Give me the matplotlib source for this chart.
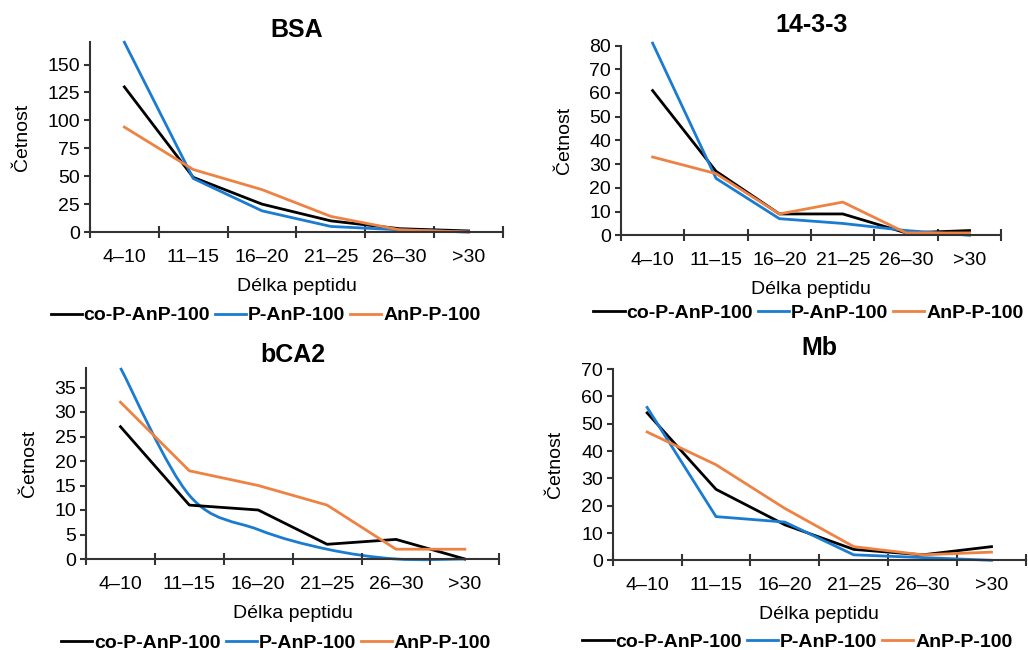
import matplotlib
matplotlib.use("Agg")
import matplotlib.pyplot as plt
from matplotlib.path import Path
from matplotlib.patches import PathPatch
import numpy as np

plt.rcParams['font.family'] = ['Liberation Sans', 'DejaVu Sans']

categories = ["4–10", "11–15", "16–20", "21–25", "26–30", ">30"]
series_names = ["co-P-AnP-100", "P-AnP-100", "AnP-P-100"]
colors = ["#000000", "#1A7CD0", "#EE8243"]

bsa_co = [130, 49, 25, 10, 3, 1]
bsa_p = [170, 48, 19, 5, 2, 0]
bsa_anp = [94, 56, 38, 14, 2, 0]

p1433_co = [61, 27, 9, 9, 1, 2]
p1433_p = [81, 24, 7, 5, 2, 0]
p1433_anp = [33, 26, 9, 14, 1, 1]

bca2_co = [27, 11, 10, 3, 4, 0]
bca2_p = [39, 13, 6, 2, 0, 0]
bca2_anp = [32, 18, 15, 11, 2, 2]

mb_co = [54, 26, 13, 4, 2, 5]
mb_p = [56, 16, 14, 2, 1, 0]
mb_anp = [47, 35, 19, 5, 2, 3]

panels = [
    ("BSA", [bsa_co, bsa_p, bsa_anp], 170, [0, 25, 50, 75, 100, 125, 150], [False, False, False],
     [0.0875, 0.643, 0.4018, 0.292]),
    ("14-3-3", [p1433_co, p1433_p, p1433_anp], 80, list(range(0, 81, 10)), [False, False, False],
     [0.604, 0.638, 0.370, 0.292]),
    ("bCA2", [bca2_co, bca2_p, bca2_anp], 39, list(range(0, 36, 5)), [False, True, False],
     [0.0837, 0.140, 0.402, 0.294]),
    ("Mb", [mb_co, mb_p, mb_anp], 70, list(range(0, 71, 10)), [False, False, False],
     [0.596, 0.138, 0.402, 0.294]),
]

legend_anchor_x = [0.425, 0.493, 0.46, 0.447]
legend_anchor_y = [-0.44, -0.41, -0.44, -0.43]
title_pads = [4, 10, 4, 10]

fig = plt.figure(figsize=(10.28, 6.5), dpi=100)
x = np.arange(len(categories))
spine_col = "#333333"

def smooth_path(xs, ys):
    # Catmull-Rom style bezier (Excel-like smoothed line)
    pts = np.column_stack([xs, ys]).astype(float)
    verts = [tuple(pts[0])]
    codes = [Path.MOVETO]
    n = len(pts)
    for i in range(n - 1):
        p0 = pts[i - 1] if i > 0 else pts[i]
        p1 = pts[i]
        p2 = pts[i + 1]
        p3 = pts[i + 2] if i + 2 < n else pts[i + 1]
        c1 = p1 + (p2 - p0) / 6.0
        c2 = p2 - (p3 - p1) / 6.0
        verts += [tuple(c1), tuple(c2), tuple(p2)]
        codes += [Path.CURVE4] * 3
    return Path(verts, codes)

for idx, (title, data, ymax, yticks, smooth, pos) in enumerate(panels):
    ax = fig.add_axes(pos)
    handles = []
    for s, vals in enumerate(data):
        if smooth[s]:
            patch = PathPatch(smooth_path(x, vals), facecolor="none", edgecolor=colors[s], lw=2, clip_on=False)
            ax.add_patch(patch)
            h, = ax.plot([], [], color=colors[s], lw=2, label=series_names[s])
        else:
            h, = ax.plot(x, vals, color=colors[s], lw=2, label=series_names[s], clip_on=False,
                         solid_joinstyle="round")
        handles.append(h)
    ax.set_xlim(-0.5, len(categories) - 0.5)
    ax.set_ylim(0, ymax)
    ax.set_yticks(yticks)
    ax.set_xticks(x)
    ax.set_xticklabels(categories)
    ax.set_xticks(np.arange(-0.5, len(categories), 1.0), minor=True)
    ax.tick_params(axis="x", which="major", length=0, pad=12, labelsize=14)
    ax.tick_params(axis="x", which="minor", length=8, direction="inout", width=1.5, color=spine_col)
    ax.tick_params(axis="y", which="major", length=4, direction="out", width=1.5, color=spine_col,
                   labelsize=14, pad=3)
    for sp in ["top", "right"]:
        ax.spines[sp].set_visible(False)
    for sp in ["left", "bottom"]:
        ax.spines[sp].set_color(spine_col)
        ax.spines[sp].set_linewidth(1.5)
    ax.set_title(title, fontsize=18, fontweight="bold", pad=title_pads[idx])
    ax.set_xlabel("Délka peptidu", fontsize=14, labelpad=9)
    ax.set_ylabel("Četnost", fontsize=14, labelpad=12)
    ax.legend(handles=handles, loc="center", bbox_to_anchor=(legend_anchor_x[idx], legend_anchor_y[idx]),
              ncol=3, frameon=False, handlelength=1.6, handletextpad=0.1, columnspacing=0.25,
              prop={"size": 14, "weight": "bold"})

fig.savefig("out.png", dpi=100)
